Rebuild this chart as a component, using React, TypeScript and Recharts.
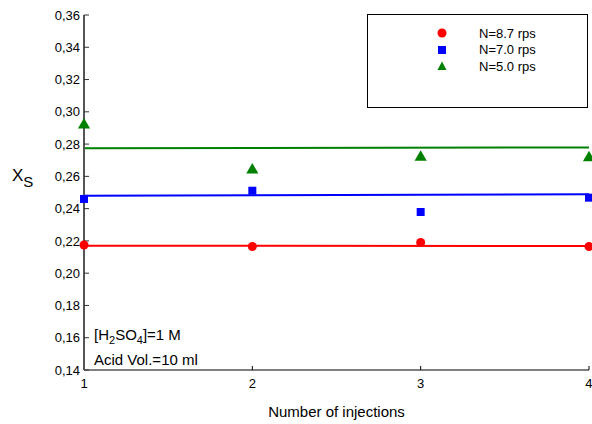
import { ComposedChart, Line, Scatter, XAxis, YAxis } from 'recharts';

const injections = [1, 2, 3, 4];
const rps87 = [0.2175, 0.2165, 0.219, 0.2165];
const rps70 = [0.246, 0.2511, 0.2379, 0.2468];
const rps50 = [0.2918, 0.2639, 0.2718, 0.2715];

// fitted lines, start and end value
const fitX = [1, 4];
const fit87 = [0.217, 0.2169];
const fit70 = [0.248, 0.2489];
const fit50 = [0.2774, 0.2779];

const yTicks = [0.14, 0.16, 0.18, 0.2, 0.22, 0.24, 0.26, 0.28, 0.3, 0.32, 0.34, 0.36];
const yMinorTicks = Array.from({ length: 45 }, (_, i) => +(0.14 + i * 0.005).toFixed(3));

const FONT = '"Liberation Sans", Arial, sans-serif';

const series = [
  { name: 'N=8.7 rps', color: '#ff0000', shape: 'circle' as const, values: rps87, fit: fit87 },
  { name: 'N=7.0 rps', color: '#0000ff', shape: 'square' as const, values: rps70, fit: fit70 },
  { name: 'N=5.0 rps', color: '#008000', shape: 'triangle' as const, values: rps50, fit: fit50 },
];

function toPoints(xs: number[], ys: number[]) {
  return xs.map((x, i) => ({ x, y: ys[i] }));
}

function LegendBox() {
  return (
    <div
      style={{
        position: 'absolute',
        left: 367,
        top: 14,
        width: 219,
        height: 82,
        border: '1px solid #000',
        fontFamily: FONT,
        fontSize: 13,
        color: '#000',
        paddingTop: 10,
        boxSizing: 'content-box',
        background: '#fff',
      }}
    >
      {series.map((s) => (
        <div key={s.name} style={{ display: 'flex', alignItems: 'center', height: 16.5 }}>
          <svg width={12} height={12} style={{ marginLeft: 68 }}>
            {s.shape === 'circle' && <circle cx={6} cy={6} r={4.5} fill={s.color} />}
            {s.shape === 'square' && <rect x={2} y={2} width={8} height={8} fill={s.color} />}
            {s.shape === 'triangle' && <polygon points="6,1.5 10.5,10 1.5,10" fill={s.color} />}
          </svg>
          <span style={{ marginLeft: 31 }}>{s.name}</span>
        </div>
      ))}
    </div>
  );
}

export default function App() {
  const fmt = (v: number) => v.toFixed(2).replace('.', ',');
  return (
    <div style={{ position: 'absolute', left: 0, top: 0, width: 592, height: 424, background: '#fff' }}>
      <ComposedChart width={592} height={424} margin={{ top: 15, right: 3, bottom: 0, left: 0 }}>
        <XAxis
          xAxisId="main"
          dataKey="x"
          type="number"
          domain={[1, 4]}
          ticks={injections}
          height={54}
          tickSize={-4}
          tickMargin={13}
          stroke="#000"
          tick={{ fill: '#000', fontSize: 13, fontFamily: FONT }}
          label={{
            value: 'Number of injections',
            position: 'insideBottom',
            offset: 7,
            fill: '#000',
            fontSize: 15,
            fontFamily: FONT,
          }}
        />
        <XAxis xAxisId="top" orientation="top" type="number" domain={[1, 4]} height={0} tick={false} tickLine={false} stroke="#000" />
        <YAxis
          yAxisId="main"
          type="number"
          domain={[0.14, 0.36]}
          ticks={yTicks}
          width={84}
          tickSize={-5}
          tickMargin={9}
          tickFormatter={fmt}
          axisLine={{ stroke: '#555', strokeWidth: 2 }}
          tickLine={{ stroke: '#333' }}
          tick={{ fill: '#000', fontSize: 13, fontFamily: FONT }}
        />
        <YAxis
          yAxisId="minor"
          type="number"
          domain={[0.14, 0.36]}
          allowDataOverflow
          ticks={yMinorTicks}
          width={0}
          tickSize={-3}
          axisLine={false}
          tick={false}
          tickLine={{ stroke: '#333' }}
        />
        <YAxis yAxisId="right" orientation="right" type="number" domain={[0.14, 0.36]} width={0} tick={false} tickLine={false} stroke="#000" />
        {series.map((s) => (
          <Line
            key={s.name + '-fit'}
            xAxisId="main"
            yAxisId="main"
            data={toPoints(fitX, s.fit)}
            dataKey="y"
            type="linear"
            stroke={s.color}
            strokeWidth={2}
            dot={false}
            activeDot={false}
            legendType="none"
            isAnimationActive={false}
          />
        ))}
        {series.map((s) => (
          <Scatter
            key={s.name}
            name={s.name}
            xAxisId="main"
            yAxisId="main"
            data={toPoints(injections, s.values)}
            dataKey="y"
            fill={s.color}
            shape={s.shape}
            isAnimationActive={false}
          />
        ))}
      </ComposedChart>
      <LegendBox />
      <div style={{ position: 'absolute', left: 12, top: 166, fontFamily: FONT, fontSize: 17, color: '#000' }}>
        X<sub style={{ fontSize: 15, verticalAlign: -6 }}>S</sub>
      </div>
      <div style={{ position: 'absolute', left: 94, top: 325, fontFamily: FONT, fontSize: 15, color: '#000', lineHeight: '20px' }}>
        <div>
          [H<sub style={{ fontSize: 11, verticalAlign: -4 }}>2</sub>SO<sub style={{ fontSize: 11, verticalAlign: -4 }}>4</sub>]=1 M
        </div>
        <div>Acid Vol.=10 ml</div>
      </div>
    </div>
  );
}
